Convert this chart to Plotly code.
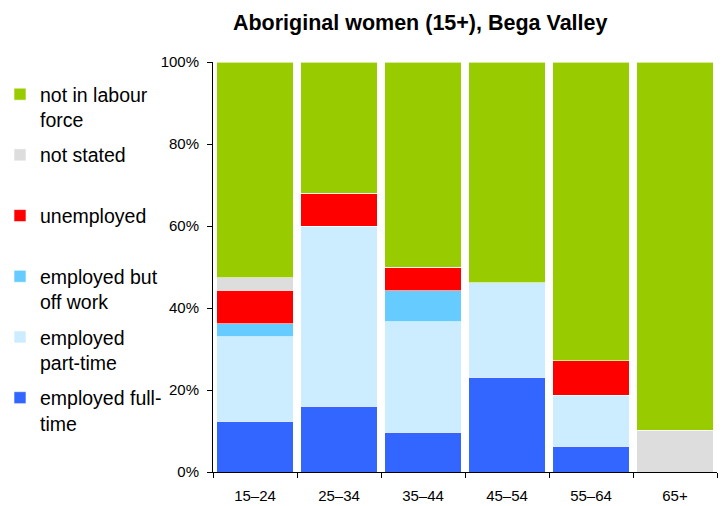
import plotly.graph_objects as go

categories = ["15–24", "25–34", "35–44", "45–54", "55–64", "65+"]
employed_full_time = [12.4, 16.0, 9.7, 23.1, 6.3, 0.0]
employed_part_time = [20.6, 44.0, 26.9, 23.1, 12.4, 0.0]
employed_off_work = [3.1, 0.0, 7.6, 0.0, 0.0, 0.0]
unemployed = [8.2, 8.0, 5.8, 0.0, 8.4, 0.0]
not_stated = [3.1, 0.0, 0.0, 0.0, 0.0, 10.2]
not_in_labour_force = [52.6, 32.0, 50.0, 53.8, 72.9, 89.8]

series = [
    ("employed full-<br>time", employed_full_time, "#3366FF"),
    ("employed<br>part-time", employed_part_time, "#CCECFF"),
    ("employed but<br>off work", employed_off_work, "#66CCFF"),
    ("unemployed<br> ", unemployed, "#FF0000"),
    ("not stated<br> ", not_stated, "#DDDDDD"),
    ("not in labour<br>force", not_in_labour_force, "#99CC00"),
]

fig = go.Figure()
n = len(series)
for i, (name, vals, color) in enumerate(series):
    fig.add_trace(go.Bar(
        x=categories, y=vals, name=name, legendgroup=f"g{i}", legendrank=n - i,
        marker=dict(color=color, line=dict(color="rgba(255,255,255,0.6)", width=1)),
    ))

font_family = "Arial, Liberation Sans, sans-serif"
fig.update_layout(
    width=727, height=506,
    barmode="stack", bargap=0.09,
    plot_bgcolor="white", paper_bgcolor="white",
    margin=dict(l=213, r=10, t=62, b=34, autoexpand=False),
    title=dict(text="<b>Aboriginal women (15+), Bega Valley</b>",
               x=0.578, xanchor="center", y=1 - 22 / 506, yanchor="middle",
               font=dict(family=font_family, size=21.5, color="black")),
    font=dict(family=font_family, color="black"),
    legend=dict(
        xref="container", yref="container", x=0.0, y=1 - 75 / 506,
        xanchor="left", yanchor="top",
        traceorder="grouped", tracegroupgap=7, valign="top",
        font=dict(family=font_family, size=19.5, color="black"),
        itemwidth=30, maxheight=480,
    ),
    xaxis=dict(
        showline=True, linecolor="black", linewidth=1,
        ticks="outside", tickson="boundaries", ticklen=5, tickcolor="black",
        tickfont=dict(size=15), showgrid=False, automargin=False,
        ticklabelstandoff=10,
    ),
    yaxis=dict(
        range=[0, 100], tickvals=[0, 20, 40, 60, 80, 100],
        ticktext=["0%", "20%", "40%", "60%", "80%", "100%"],
        showline=True, linecolor="black", linewidth=1,
        ticks="outside", ticklen=5, tickcolor="black",
        tickfont=dict(size=15), showgrid=False, zeroline=False,
        automargin=False, ticklabelstandoff=5,
    ),
)

fig.write_html("out.html", config={"displayModeBar": False},
               post_script="document.body.style.margin='0';")
